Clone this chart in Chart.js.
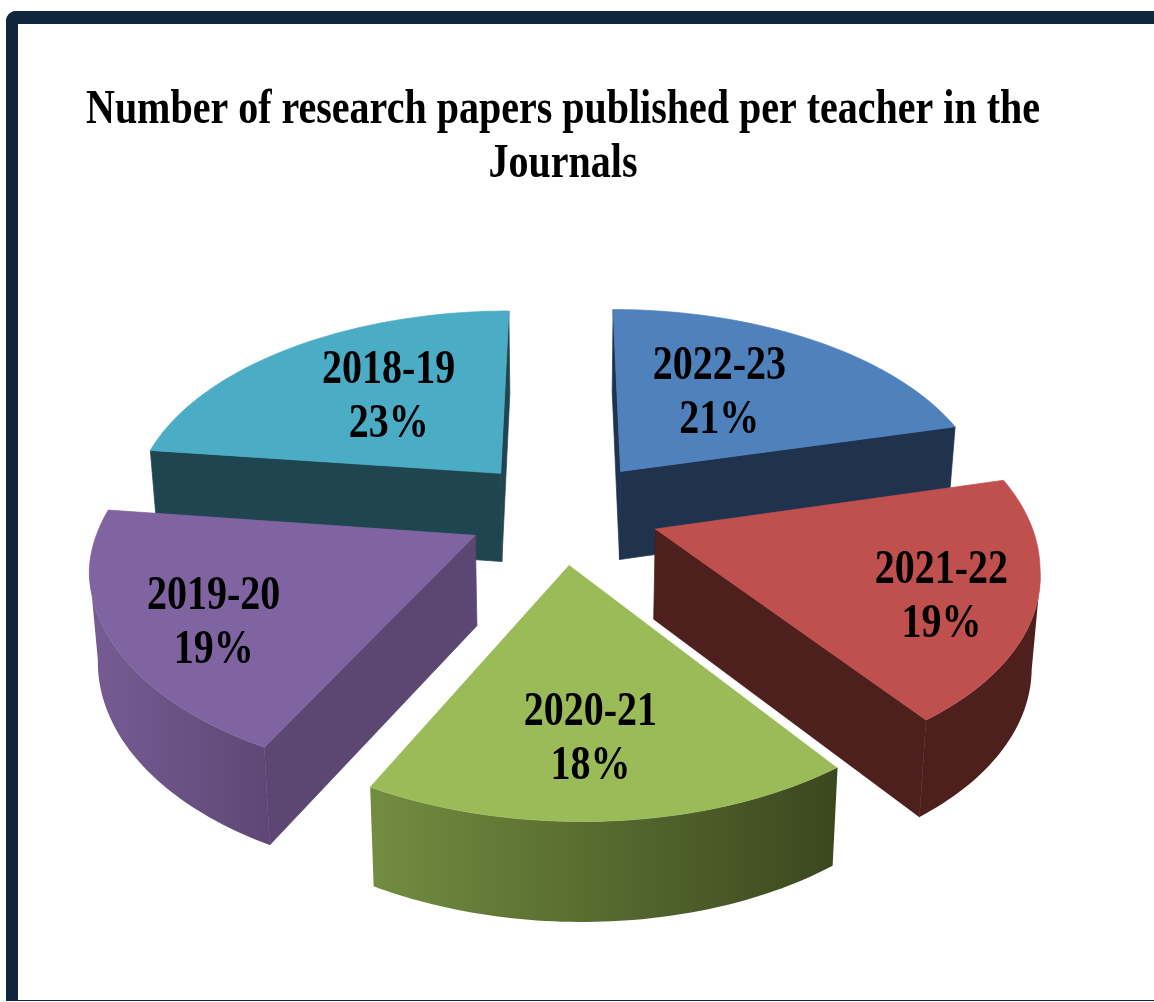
<!DOCTYPE html>
<html><head><meta charset="utf-8">
<script src="https://cdn.jsdelivr.net/npm/chart.js@4/dist/chart.umd.min.js"></script>
<style>
html,body{margin:0;padding:0;background:#fff;overflow:hidden}
#wrap{position:relative;width:1154px;height:1002px}
#frame{position:absolute;left:6px;top:11px;width:1148px;height:990px;box-sizing:border-box;border-top:13px solid #10263f;border-left:12px solid #10263f;border-bottom:1px solid #10263f;border-top-left-radius:10px}
canvas{position:absolute;left:0;top:0}
</style></head><body>
<div id="wrap"><div id="frame"></div><canvas id="c" width="1154" height="1002"></canvas></div>
<script>
const titleLines = ['Number of research papers published per teacher in the', 'Journals'];
const categories = ['2022-23', '2021-22', '2020-21', '2019-20', '2018-19'];
const values = [21, 19.2, 17.5, 19.3, 23];
const topColors = ['#4f81bd', '#c0504d', '#9bbb59', '#8064a2', '#4bacc6'];
const radialColors = ['#1f334f', '#4d1f1d', '#3d4a20', '#5c4672', '#1f4650'];
const wallLeft = ['#1f334f', '#4d1f1d', '#728d40', '#765c94', '#1f4650'];
const wallRight = ['#1f334f', '#4d1f1d', '#3b471e', '#5f4876', '#1f4650'];
const labelFractions = [0.537, 0.773, 0.718, 0.755, 0.55];
const labelTurns = [-3.5, 4.2, 1.6, -4.7, 3];
const drawOrder = [4, 0, 3, 1, 2];

const D = 2400, K = 0.533, SHRINK = 0.982, STRETCH = 1.2, SKEW = 0.03;

function project(el, X, Y) {
  const w = D / (D - Y);
  return { x: el.x + X * w + SKEW * Math.max(0, Y - 100), y: el.y + K * Y * w, w };
}
function lower(el, p) {
  return { x: el.x + (p.x - el.x) * SHRINK, y: p.y + 44.5 + 45 * p.w };
}
function slicePts(el) {
  const mid = (el.startAngle + el.endAngle) / 2, e = el.options.offset, R = el.outerRadius;
  const ox = e * Math.cos(mid), oy = e * Math.sin(mid);
  const arc = [];
  const n = 60;
  for (let i = 0; i <= n; i++) {
    const a = el.startAngle + (el.endAngle - el.startAngle) * i / n;
    arc.push(project(el, ox + R * Math.cos(a), oy + R * Math.sin(a)));
  }
  return { apex: project(el, ox, oy), arc, mid, ox, oy, R };
}
function tracePoly(ctx, pts) {
  pts.forEach((p, i) => i ? ctx.lineTo(p.x, p.y) : ctx.moveTo(p.x, p.y));
  ctx.closePath();
}
function poly(ctx, pts, fill) {
  ctx.beginPath();
  tracePoly(ctx, pts);
  ctx.fillStyle = fill;
  ctx.strokeStyle = fill;
  ctx.lineWidth = 0.7;
  ctx.lineJoin = 'round';
  ctx.fill();
  ctx.stroke();
}
const pie3d = {
  id: 'pie3d',
  beforeDraw(chart) {
    const t = chart.titleBlock, ctx = chart.ctx;
    if (t && !t.stretched) {
      t.stretched = true;
      const d = t.draw.bind(t), y0 = t.top;
      t.draw = () => {
        ctx.save();
        ctx.translate(0, y0);
        ctx.scale(1, STRETCH);
        ctx.translate(0, -y0);
        d();
        ctx.restore();
      };
    }
  },
  beforeDatasetDraw(chart, args) {
    const ctx = chart.ctx, els = args.meta.data;
    ctx.save();
    drawOrder.forEach(i => {
      const el = els[i], s = slicePts(el), first = s.arc[0], last = s.arc[s.arc.length - 1];
      const xs = s.arc.map(p => p.x);
      const g = ctx.createLinearGradient(Math.min(...xs), 0, Math.max(...xs), 0);
      g.addColorStop(0, wallLeft[i]); g.addColorStop(1, wallRight[i]);
      ctx.beginPath();
      for (let j = 0; j < s.arc.length - 1; j++) {
        const a = s.arc[j], b = s.arc[j + 1];
        if (b.x < a.x) tracePoly(ctx, [a, b, lower(el, b), lower(el, a)]);
      }
      ctx.fillStyle = g;
      ctx.fill();
      if (first.x < s.apex.x) poly(ctx, [s.apex, first, lower(el, first), lower(el, s.apex)], radialColors[i]);
      if (s.apex.x < last.x) poly(ctx, [last, s.apex, lower(el, s.apex), lower(el, last)], radialColors[i]);
      poly(ctx, [s.apex].concat(s.arc), topColors[i]);
      if (i === 2) {
        ctx.beginPath();
        ctx.moveTo(s.apex.x, s.apex.y);
        ctx.lineTo(first.x, first.y);
        ctx.strokeStyle = '#fff';
        ctx.lineWidth = 1.2;
        ctx.stroke();
      }
    });
    ctx.restore();
    return false;
  },
  afterDatasetsDraw(chart) {
    const ctx = chart.ctx, els = chart.getDatasetMeta(0).data;
    const total = values.reduce((a, b) => a + b, 0);
    ctx.save();
    ctx.font = 'bold 40px "Liberation Serif"';
    ctx.fillStyle = '#000';
    ctx.textAlign = 'center';
    ctx.textBaseline = 'middle';
    const put = (txt, x, y) => {
      ctx.save();
      ctx.translate(x, y);
      ctx.scale(1, STRETCH);
      ctx.fillText(txt, 0, 0);
      ctx.restore();
    };
    els.forEach((el, i) => {
      const s = slicePts(el), f = labelFractions[i];
      const a = s.mid + labelTurns[i] * Math.PI / 180;
      const p = project(el, s.ox + f * s.R * Math.cos(a), s.oy + f * s.R * Math.sin(a));
      put(categories[i], p.x, p.y - 27);
      put(Math.round(values[i] / total * 100) + '%', p.x, p.y + 27);
    });
    ctx.restore();
  }
};
new Chart(document.getElementById('c'), {
  type: 'pie',
  data: { labels: categories, datasets: [{ data: values, backgroundColor: topColors, offset: 97, hoverOffset: 0, borderWidth: 0 }] },
  options: {
    responsive: false, animation: false, radius: 372,
    layout: { padding: { top: 84, right: 28, bottom: 162 } },
    plugins: {
      legend: { display: false }, tooltip: { enabled: false },
      title: { display: true, text: titleLines, color: '#000', font: { family: '"Liberation Serif"', size: 40, weight: 'bold', lineHeight: 1.125 }, padding: { top: 0, bottom: 8 } }
    }
  },
  plugins: [pie3d]
});
</script>
</body></html>
